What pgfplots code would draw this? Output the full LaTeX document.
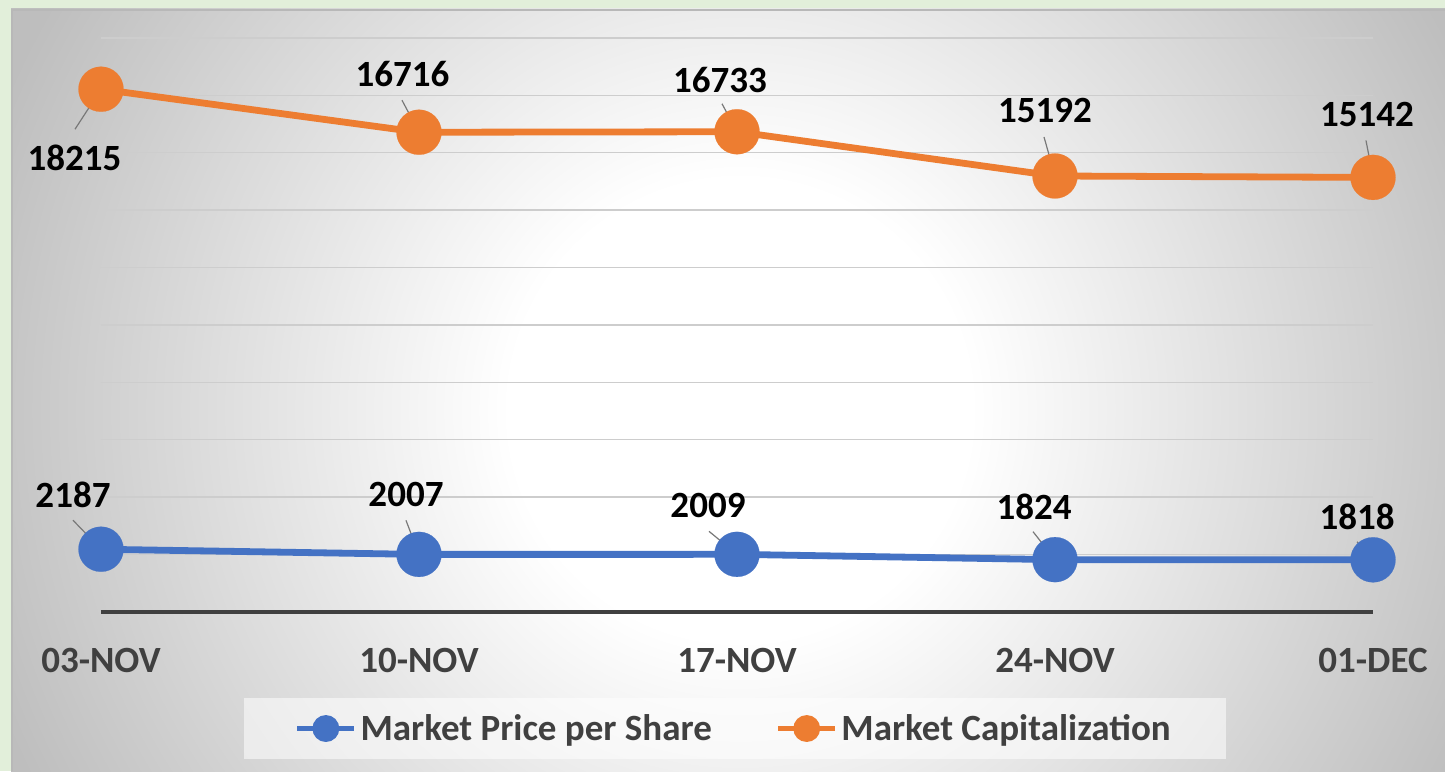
\documentclass[border=0pt]{standalone}
\usepackage{pgfplots}
\pgfplotsset{compat=1.18}
\usepackage{fontspec}
\setmainfont{Carlito}
\definecolor{bgreen}{RGB}{226,239,218}
\definecolor{cblue}{RGB}{68,114,196}
\definecolor{corange}{RGB}{237,125,49}
\definecolor{txtgray}{RGB}{64,64,64}
\definecolor{gridgray}{RGB}{205,205,205}
\definecolor{bgedge}{RGB}{190,190,190}
\definecolor{leadgray}{RGB}{120,120,120}
\pgfdeclareradialshading{chartbg}{\pgfpoint{0bp}{0bp}}{color(0bp)=(white); color(7.2bp)=(white); color(25bp)=(bgedge); color(50bp)=(bgedge)}
\newcommand{\lblfont}{\bfseries\fontsize{18.5}{21}\selectfont}
% x, y, label dx, label dy, leader dx, leader dy, text
\newcommand{\dlab}[7]{%
  \draw[leadgray, line width=0.6pt] ([xshift=#5, yshift=#6]axis cs:#1,#2) -- (axis cs:#1,#2);
  \node[font=\lblfont, text=black, inner sep=0pt, anchor=center] at ([xshift=#3, yshift=#4]axis cs:#1,#2) {#7};
}
\begin{document}
\begin{tikzpicture}[x=1pt,y=1pt]
\useasboundingbox (0,0) rectangle (722.5,385.5);
\fill[bgreen] (0,0) rectangle (722.5,385.5);
\begin{scope}
\clip (5.5,0) rectangle (722.5,381);
\shade[shading=chartbg] (370-400,180.5-400) rectangle (370+400,180.5+400);
\end{scope}
\draw[black!28, line width=0.8pt] (5.9,0) -- (5.9,380.6) -- (722.5,380.6);
\begin{axis}[
  at={(50.5pt,79.5pt)}, anchor=south west,
  scale only axis, width=636pt, height=287pt,
  xmin=0, xmax=4, ymin=0, ymax=20000,
  axis lines*=left,
  axis line style={-},
  x axis line style={txtgray, line width=1.6pt},
  y axis line style={draw=none},
  xtick={0,1,2,3,4},
  xticklabels={03-NOV,10-NOV,17-NOV,24-NOV,01-DEC},
  ytick={0,2000,...,20000},
  yticklabels={},
  scaled y ticks=false,
  major tick length=0pt,
  xticklabel style={font=\lblfont, text=txtgray, anchor=base, yshift=-30pt},
  ymajorgrids,
  grid style={gridgray, line width=0.7pt},
  clip=false,
  legend columns=2,
  legend style={at={(0.4984,-0.203)}, anchor=center, fill=white, fill opacity=0.55, text opacity=1, draw=none,
    font=\lblfont\color{txtgray}, inner xsep=25.5pt, inner ysep=6pt,
    /tikz/every even column/.append style={column sep=30pt}},
  legend image code/.code={
    \draw[#1, line width=2.2pt, mark=none, draw opacity=1] (0pt,0pt) -- (28.5pt,0pt);
    \fill[#1, fill opacity=1] (14.25pt,0pt) circle (5pt);
  },
]
\addplot[cblue, line width=3.4pt, mark=*, mark size=11.25pt, mark options={fill=cblue, draw=cblue, line width=0.1pt}]
  coordinates {(0,2187) (1,2007) (2,2009) (3,1824) (4,1818)};
\addplot[corange, line width=3.4pt, mark=*, mark size=11.25pt, mark options={fill=corange, draw=corange, line width=0.1pt}]
  coordinates {(0,18215) (1,16716) (2,16733) (3,15192) (4,15142)};
\legend{Market Price per Share, Market Capitalization}
\dlab{0}{18215}{-13.25pt}{-34.25pt}{-13pt}{-20pt}{18215}
\dlab{1}{16716}{-8.25pt}{29pt}{-8.5pt}{16pt}{16716}
\dlab{2}{16733}{-8.5pt}{26pt}{-7.5pt}{14pt}{16733}
\dlab{3}{15192}{-5pt}{32.5pt}{-5.5pt}{19.5pt}{15192}
\dlab{4}{15142}{-3pt}{31.5pt}{-3.5pt}{18.5pt}{15142}
\dlab{0}{2187}{-14pt}{27.25pt}{-14pt}{14.5pt}{2187}
\dlab{1}{2007}{-6.5pt}{29.75pt}{-6.5pt}{17pt}{2007}
\dlab{2}{2009}{-14.5pt}{24.5pt}{-14pt}{11.5pt}{2009}
\dlab{3}{1824}{-10.5pt}{26.5pt}{-11pt}{14pt}{1824}
\dlab{4}{1818}{-8pt}{21.5pt}{-8pt}{9pt}{1818}
\end{axis}
\end{tikzpicture}
\end{document}
